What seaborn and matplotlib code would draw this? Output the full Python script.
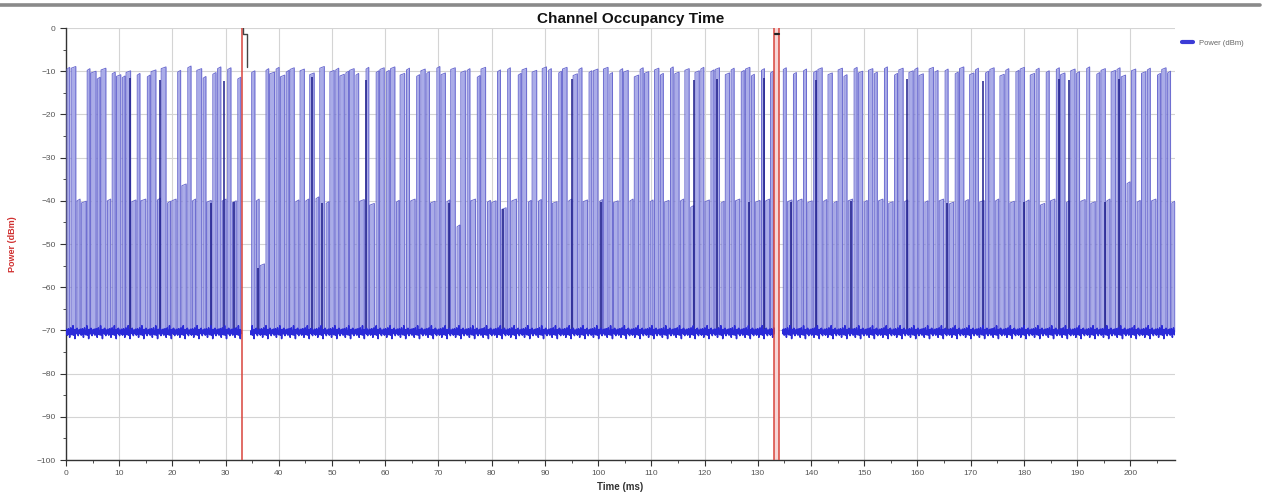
import numpy as np
import pandas as pd
import matplotlib
matplotlib.use("Agg")
import matplotlib.pyplot as plt
from matplotlib.lines import Line2D
import seaborn as sns

# pulse start times (ms)
pulse_start = [
    0.2, 1.0, 2.1, 2.9, 4.0, 4.7, 5.9, 6.6, 7.8, 8.7, 9.5,
    10.6, 11.3, 12.4, 13.4, 14.1, 15.3, 16.0, 17.2, 17.9, 19.1,
    19.9, 21.0, 21.8, 22.9, 23.8, 24.6, 25.8, 26.5, 27.6, 28.5, 29.4,
    30.4, 31.3, 32.3,
    34.9, 35.8, 36.5, 37.6, 38.3, 39.5,
    40.3, 41.4, 42.1, 43.2, 44.0, 45.1, 45.8, 47.0, 47.7, 48.9, 49.6,
    50.7, 51.5, 52.6, 53.3, 54.5, 55.2, 56.4, 57.1, 58.3, 59.0,
    60.2, 61.0, 62.1, 62.8, 64.0, 64.8, 65.9, 66.7, 67.8, 68.5, 69.7,
    70.5, 71.6, 72.3, 73.5, 74.2, 75.4, 76.1, 77.3, 78.0, 79.2,
    80.0, 81.1, 81.9, 83.0, 83.8, 85.0, 85.7, 86.9, 87.6, 88.8, 89.5,
    90.7, 91.4, 92.6, 93.3, 94.5, 95.3, 96.4, 97.2, 98.3, 99.1,
    100.3, 101.0, 102.2, 102.9, 104.1, 104.8, 106.0, 106.8, 107.9, 108.7, 109.8,
    110.6, 111.7, 112.5, 113.6, 114.4, 115.5, 116.3, 117.4, 118.2, 119.3,
    120.1, 121.2, 122.0, 123.1, 123.9, 125.0, 125.8, 126.9, 127.7, 128.8, 129.6,
    130.7, 131.5, 132.4,
    134.8, 135.6, 136.7, 137.5, 138.6, 139.4,
    140.5, 141.3, 142.4, 143.2, 144.3, 145.1, 146.2, 147.0, 148.1, 148.9,
    150.0, 150.8, 151.9, 152.7, 153.8, 154.6, 155.7, 156.5, 157.6, 158.4, 159.5,
    160.3, 161.4, 162.2, 163.3, 164.1, 165.2, 166.0, 167.1, 167.9, 169.0, 169.8,
    170.9, 171.7, 172.8, 173.6, 174.7, 175.5, 176.6, 177.4, 178.5, 179.3,
    180.4, 181.2, 182.3, 183.1, 184.2, 185.0, 186.1, 186.9, 188.0, 188.8, 189.9,
    190.7, 191.8, 192.6, 193.7, 194.5, 195.6, 196.4, 197.5, 198.3, 199.4,
    200.2, 201.3, 202.1, 203.2, 204.0, 205.1, 205.9, 207.0, 207.8,
]

# pulse durations (ms)
pulse_width = [
    0.5, 0.85, 0.55, 0.9, 0.5, 0.95, 0.5, 0.9, 0.6, 0.55, 0.8,
    0.5, 0.85, 0.75, 0.5, 0.9, 0.5, 0.9, 0.55, 0.9, 0.55,
    0.8, 0.55, 0.8, 0.6, 0.55, 0.9, 0.5, 0.8, 0.6, 0.6, 0.7,
    0.6, 0.7, 0.55,
    0.6, 0.5, 0.8, 0.5, 0.9, 0.55,
    0.8, 0.5, 0.8, 0.55, 0.8, 0.5, 0.85, 0.5, 0.85, 0.5, 0.8,
    0.55, 0.8, 0.5, 0.85, 0.5, 0.85, 0.5, 0.85, 0.5, 0.8,
    0.55, 0.8, 0.5, 0.85, 0.55, 0.8, 0.55, 0.8, 0.5, 0.85, 0.55,
    0.8, 0.5, 0.85, 0.5, 0.85, 0.5, 0.85, 0.5, 0.85, 0.55,
    0.8, 0.55, 0.8, 0.5, 0.85, 0.5, 0.85, 0.5, 0.85, 0.5, 0.8,
    0.5, 0.85, 0.5, 0.85, 0.55, 0.8, 0.55, 0.8, 0.5, 0.85,
    0.5, 0.85, 0.5, 0.85, 0.5, 0.85, 0.55, 0.8, 0.55, 0.8, 0.5,
    0.8, 0.55, 0.8, 0.5, 0.8, 0.55, 0.8, 0.55, 0.8, 0.55,
    0.8, 0.55, 0.8, 0.55, 0.8, 0.55, 0.8, 0.55, 0.8, 0.55, 0.8,
    0.55, 0.7, 0.5,
    0.55, 0.8, 0.55, 0.8, 0.55, 0.8,
    0.55, 0.8, 0.55, 0.8, 0.55, 0.8, 0.55, 0.8, 0.55, 0.8,
    0.55, 0.8, 0.55, 0.8, 0.55, 0.8, 0.55, 0.8, 0.55, 0.8, 0.55,
    0.8, 0.55, 0.8, 0.55, 0.8, 0.55, 0.8, 0.55, 0.8, 0.55, 0.8,
    0.55, 0.8, 0.55, 0.8, 0.55, 0.8, 0.55, 0.8, 0.55, 0.8,
    0.55, 0.8, 0.55, 0.8, 0.55, 0.8, 0.55, 0.8, 0.55, 0.8, 0.55,
    0.8, 0.55, 0.8, 0.55, 0.8, 0.55, 0.8, 0.55, 0.8, 0.55,
    0.8, 0.55, 0.8, 0.55, 0.8, 0.55, 0.8, 0.55, 0.55,
]

# pulse level (dBm)
pulse_level = [
    -9.5, -9.3, -40, -40.5, -9.8, -10.4, -11.8, -9.7, -40, -10.6, -11.2,
    -11.5, -10.3, -40.2, -10.9, -40, -11.3, -10.1, -39.8, -9.4, -40.5,
    -40, -10.2, -36.5, -9.2, -40, -9.8, -11.6, -40.3, -10.7, -9.4, -40,
    -9.6, -40.4, -11.8,
    -10.3, -40, -55, -9.8, -10.6, -9.5,
    -11.3, -10.2, -9.6, -40.2, -9.9, -40, -10.8, -39.5, -9.3, -40.6, -10.2,
    -9.7, -11.1, -10.4, -9.8, -10.9, -40.1, -9.5, -41, -10.3, -9.6,
    -10.2, -9.4, -40.3, -10.9, -9.7, -40, -11.2, -9.9, -10.5, -40.5, -9.3,
    -10.8, -40.2, -9.6, -46, -10.3, -9.8, -40, -11.4, -9.5, -40.3,
    -40.4, -10.1, -42, -9.6, -40, -10.9, -9.7, -40.3, -10.2, -40.1, -9.4,
    -9.8, -40.6, -10.4, -9.5, -40, -11, -9.6, -40.2, -10.3, -9.9,
    -40.1, -9.5, -10.7, -40.4, -9.8, -10.2, -40, -11.3, -9.6, -10.5, -40.2,
    -9.7, -10.9, -40.3, -9.4, -10.6, -40, -9.8, -41.5, -10.3, -9.5,
    -40.2, -10.1, -9.6, -40.5, -10.8, -9.7, -40, -10.2, -9.5, -11.1, -40.3,
    -9.8, -40, -10.4,
    -9.6, -40.2, -10.7, -40, -9.9, -40.4,
    -10.3, -9.6, -40.1, -10.8, -40.5, -9.7, -11.2, -40, -9.5, -10.4,
    -40.3, -9.8, -10.6, -40, -9.4, -40.6, -10.9, -9.7, -40.2, -10.3, -9.6,
    -11, -40.4, -9.5, -10.2, -40, -9.9, -40.7, -10.6, -9.4, -40.1, -10.8,
    -9.7, -40.3, -10.4, -9.6, -40, -11.1, -9.8, -40.5, -10.2, -9.5,
    -40.2, -10.9, -9.7, -41, -10.3, -40, -9.6, -10.8, -40.4, -9.9, -10.5,
    -40.1, -9.4, -40.6, -10.7, -9.8, -40, -10.2, -9.6, -11.3, -36,
    -9.9, -40.3, -10.5, -9.7, -40, -10.9, -9.6, -10.4, -40.5,
]

# darker edge lines seen in the trace (ms, dBm)
dark_t = [12.1, 17.6, 27.3, 29.7, 31.6, 36.0, 46.2, 48.1, 56.3, 72.0, 82.2, 95.1,
          100.6, 118.0, 122.4, 128.3, 131.2, 136.3, 141.0, 147.6, 158.0, 165.6,
          172.4, 180.1, 186.5, 188.4, 195.2, 197.9]
dark_p = [-11.5, -12.0, -40.5, -12.2, -40.3, -55.5, -11.4, -40.6, -12.0, -40.4,
          -42.0, -11.8, -40.2, -12.1, -11.9, -40.3, -11.6, -40.2, -12.0, -40.1,
          -11.7, -40.6, -12.2, -40.3, -11.8, -12.1, -40.2, -11.9]

# noise floor (dBm) and its ripple
floor_level = -70.3
floor_ripple = [0.3, -0.5, 0.6, -0.2, -0.8, 0.4, -0.3, 0.7, -0.6, 0.1, -1.3, 0.5,
                -0.1, 0.9, -0.5, 0.1, -0.7, 0.3, -0.4, 1.4, -0.8, 0.2, -0.3, 0.5,
                -1.6, 0.4, 0.0, -0.4, 0.6, -0.2, 0.8, -0.6, 0.2, -0.9, 0.4, -0.2, 0.3]

# capture gaps (ms) where the trace was not recorded
gap_start = [33.0, 133.1]
gap_end = [34.7, 134.6]

# cursors (ms) and the marker trace near the top
cursor_t = [33.1, 133.05, 134.0]
marker1_t = [33.2, 33.2, 34.1, 34.1]
marker1_p = [0.0, -1.3, -1.3, -9.0]
marker2_t = [133.3, 134.0]
marker2_p = [-1.3, -1.3]

t_end = 208.4


def seg_of(tt):
    for a, b in zip(gap_start, gap_end):
        if a <= tt < b:
            return None
    return int(np.searchsorted(gap_end, tt, side="right"))


# pulses: rise, flat top, fall
pulse_rows = []
starts = list(pulse_start) + [t_end + 0.12]
for i, (s, w, lv) in enumerate(zip(pulse_start, pulse_width, pulse_level)):
    e = min(s + w, starts[i + 1] - 0.12)
    sg = seg_of(s)
    pulse_rows += [(s - 0.01, floor_level, sg), (s, lv, sg), (e, lv + 0.4, sg),
                   (e + 0.01, floor_level, sg)]
pulse_df = pd.DataFrame(pulse_rows, columns=["time", "power", "seg"])

# noise floor, continuous except in the gaps
floor_rows = []
for k, tt in enumerate(np.arange(0.0, t_end, 0.07)):
    sg = seg_of(tt)
    if sg is None:
        continue
    floor_rows.append((tt, floor_level + floor_ripple[k % len(floor_ripple)], sg))
floor_df = pd.DataFrame(floor_rows, columns=["time", "power", "seg"])

sns.set_theme(style="whitegrid")
plt.rcParams["font.family"] = ["Liberation Sans", "DejaVu Sans"]

fig = plt.figure(figsize=(12.68, 4.97), dpi=100)
ax = fig.add_axes([0.052, 0.0744, 0.8747, 0.8692])

# light fill under each pulse
for sid, g in pulse_df.groupby("seg"):
    ax.fill_between(g["time"], g["power"], floor_level, color="#aaace8", lw=0, zorder=2)

sns.lineplot(data=pulse_df, x="time", y="power", units="seg", estimator=None, sort=False,
             color="#6c6cd0", linewidth=0.7, ax=ax, zorder=3, legend=False)
ax.vlines(dark_t, floor_level, dark_p, color="#1c1c8a", lw=1.1, zorder=3.5)
sns.lineplot(data=floor_df, x="time", y="power", units="seg", estimator=None, sort=False,
             color="#2a2ad8", linewidth=1.1, ax=ax, zorder=4, legend=False)

# cursors
ax.axvspan(cursor_t[1], cursor_t[2], color="#f6d6d6", lw=0, zorder=1)
for c in cursor_t:
    ax.axvline(c, color="#d9443c", lw=1.1, zorder=5)
ax.plot(marker1_t, marker1_p, color="#444444", lw=1.0, zorder=6)
ax.plot(marker2_t, marker2_p, color="#222222", lw=1.6, zorder=6)

ax.set_xlim(0, t_end)
ax.set_ylim(-100, 0)
ax.set_xticks(np.arange(0, 201, 10))
ax.set_xticks(np.arange(0, 209, 5), minor=True)
ax.set_yticks(np.arange(-100, 1, 10))
ax.set_yticks(np.arange(-100, 1, 5), minor=True)
ax.grid(which="major", color="#d4d4d4", lw=0.8)
ax.grid(which="minor", visible=False)
ax.tick_params(axis="both", which="major", labelsize=6, labelcolor="#555555",
               direction="out", length=4, width=0.8, color="#333333", left=True, bottom=True)
ax.tick_params(axis="both", which="minor", direction="out", length=2, width=0.6,
               color="#333333", left=True, bottom=True)
for side in ["top", "right"]:
    ax.spines[side].set_visible(False)
for side in ["left", "bottom"]:
    ax.spines[side].set_color("#333333")
    ax.spines[side].set_linewidth(1.0)
ax.set_facecolor("white")

ax.set_xlabel("Time (ms)", fontsize=7, fontweight="bold", color="#333333", labelpad=3)
ax.set_ylabel("Power (dBm)", fontsize=6.5, fontweight="bold", color="#d03030", labelpad=14)

fig.text(0.497, 0.962, "Channel Occupancy Time", ha="center", va="center",
         fontsize=11, fontweight="bold", color="#111111")
fig.add_artist(Line2D([0.0, 0.994], [0.99, 0.99], color="#8a8a8a", lw=2.6))

handle = Line2D([], [], color="#3b3bd6", lw=3)
fig.legend([handle], ["Power (dBm)"], loc="upper left", bbox_to_anchor=(0.927, 0.935),
           frameon=False, fontsize=5.5, handlelength=1.4, labelcolor="#666666")

fig.savefig("out.png", dpi=100)
